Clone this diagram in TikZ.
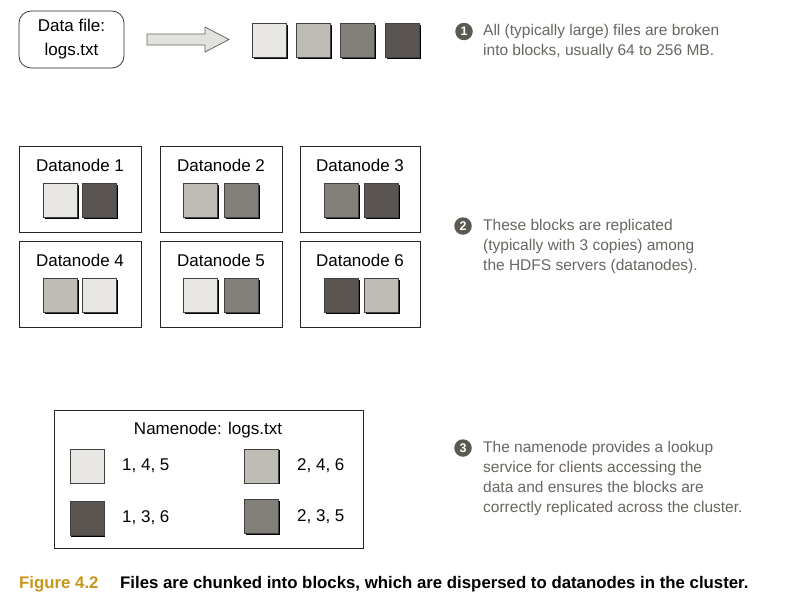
\documentclass[tikz,border=0pt]{standalone}
\usepackage{fontspec}
\setmainfont{Liberation Sans}
\newfontfamily\capfont{Liberation Sans Bold}
\usetikzlibrary{positioning,shadows}
\definecolor{cA}{RGB}{233,231,227}
\definecolor{cB}{RGB}{191,187,181}
\definecolor{cC}{RGB}{131,128,122}
\definecolor{cD}{RGB}{90,85,80}
\definecolor{notegray}{RGB}{105,101,96}
\definecolor{bulletgray}{RGB}{92,88,83}
\definecolor{capgold}{RGB}{200,150,25}
\definecolor{arrowfill}{RGB}{228,226,222}
\tikzset{
  blk/.style={draw=black!75, line width=0.5pt, minimum width=34pt, minimum height=34pt, inner sep=0pt, fill=#1,
    drop shadow={shadow xshift=1.2pt, shadow yshift=-1.2pt, fill=black, opacity=1}},
  nodebox/.style={draw=black!85, line width=0.7pt, fill=white},
  boxlabel/.style={font=\fontsize{17}{20}\selectfont, inner sep=0pt, anchor=center},
  note/.style={font=\fontsize{15.5}{20}\selectfont, text=notegray, align=left, anchor=north west, inner sep=0pt},
  bullet/.style={circle, fill=bulletgray, text=white, inner sep=0pt, minimum size=17.5pt, font=\fontsize{12.5}{12.5}\selectfont\bfseries},
}
\begin{document}
\begin{tikzpicture}[x=1pt,y=-1pt]
\useasboundingbox (0,0) rectangle (792,597);

% Data file
\node[draw=black!85, line width=0.7pt, rounded corners=12pt, minimum width=105pt, minimum height=57pt, inner sep=0pt, align=center, font=\fontsize{17}{24}\selectfont] (file) at (71.5,39.5) {Data file:\\logs.txt};

% Block arrow
\draw[draw=black!60, fill=arrowfill, line width=0.8pt]
  (147,34) -- (205,34) -- (205,27) -- (229,39.5) -- (205,52) -- (205,45) -- (147,45) -- cycle;

% Blocks
\node[blk=cA] (b1) at (269.5,40.5) {};
\node[blk=cB] (b2) at (313.5,40.5) {};
\node[blk=cC] (b3) at (357.5,40.5) {};
\node[blk=cD] (b4) at (402.5,40.5) {};

% Note 1
\node[bullet] (n1) at (464,31.5) {1};
\node[note] (t1) at (483,24) {All (typically large) files are broken\\into blocks, usually 64 to 256 MB.};

% Datanodes
\foreach \nm/\xa/\xb/\ya/\yb/\lab/\ca/\cb/\xl/\xr in {
  d1/19/141/146/232/Datanode 1/cA/cD/60.5/99.5,
  d2/160/282/146/232/Datanode 2/cB/cC/200.5/241.5,
  d3/300/420/146/232/Datanode 3/cC/cD/341.5/381.5,
  d4/19/141/241/327/Datanode 4/cB/cA/60.5/99.5,
  d5/160/282/241/327/Datanode 5/cA/cC/200.5/241.5,
  d6/300/420/241/327/Datanode 6/cD/cB/341.5/381.5}{
  \draw[nodebox] (\xa,\ya) rectangle (\xb,\yb);
  \node[boxlabel] (\nm-t) at ({(\xa+\xb)/2},\ya+19) {\lab};
  \node[blk=\ca] (\nm-a) at (\xl,\ya+54.5) {};
  \node[blk=\cb] (\nm-b) at (\xr,\ya+54.5) {};
}

% Note 2
\node[bullet] (n2) at (463,226) {2};
\node[note] (t2) at (483,219) {These blocks are replicated\\(typically with 3 copies) among\\the HDFS servers (datanodes).};

% Namenode
\draw[nodebox] (54,410) rectangle (363,548);
\node[boxlabel] (nn) at (208,430) {Namenode: logs.txt};
\node[blk=cA] (nb1) at (87,466) {};
\node[boxlabel, anchor=west] (nl1) at (122,466) {1, 4, 5};
\node[blk=cB] (nb2) at (261.5,466) {};
\node[boxlabel, anchor=west] (nl2) at (297,466) {2, 4, 6};
\node[blk=cD] (nb3) at (87,518.5) {};
\node[boxlabel, anchor=west] (nl3) at (122,518) {1, 3, 6};
\node[blk=cC] (nb4) at (261.5,516.5) {};
\node[boxlabel, anchor=west] (nl4) at (297,517) {2, 3, 5};

% Note 3
\node[bullet] (n3) at (463,448) {3};
\node[note] (t3) at (483,441.5) {The namenode provides a lookup\\service for clients accessing the\\data and ensures the blocks are\\correctly replicated across the cluster.};

% Caption
\node[anchor=base west, inner sep=0pt, text=capgold, font=\capfont\fontsize{16.8}{20}\selectfont] (capfig) at (19,588) {Figure 4.2};
\node[anchor=base west, inner sep=0pt, text=black, font=\capfont\fontsize{16.8}{20}\selectfont] (captxt) at (120,588) {Files are chunked into blocks, which are dispersed to datanodes in the cluster.};
\end{tikzpicture}
\end{document}
